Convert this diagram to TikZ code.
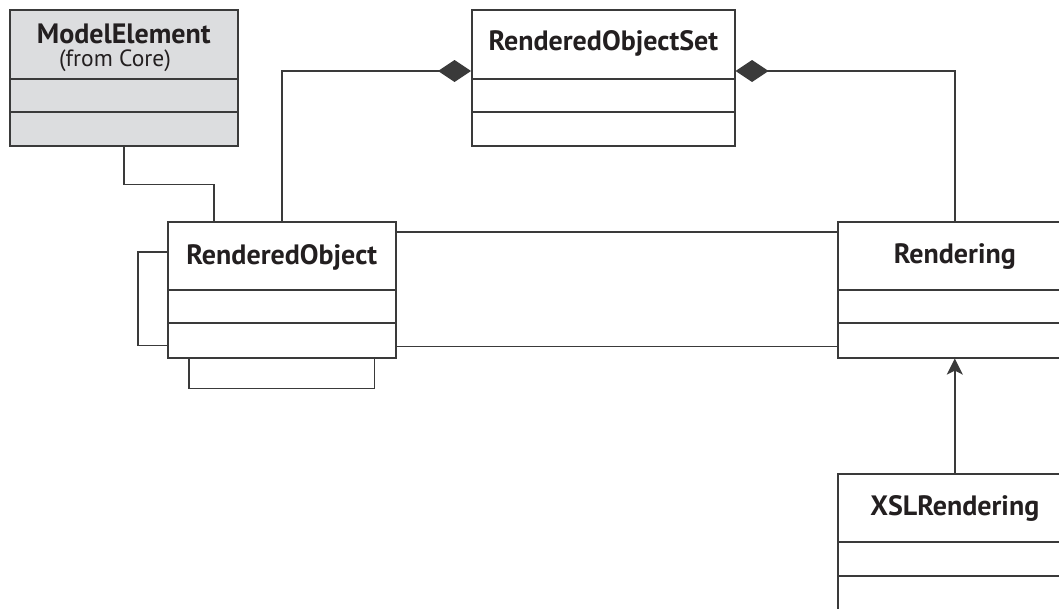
\documentclass[tikz,border=0pt]{standalone}
\usepackage{fontspec}
\setmainfont{PT Sans}
\usetikzlibrary{arrows.meta}
\definecolor{linegray}{HTML}{3A3A3A}
\definecolor{textblack}{HTML}{231F20}
\definecolor{corefill}{HTML}{DCDDDF}

\begin{document}
\begin{tikzpicture}[x=1pt,y=-1pt,
        classbox/.style={draw=linegray,line width=1.6pt,fill=white,inner sep=0pt,anchor=north west,minimum height=136pt},
        classname/.style={text=textblack,font=\fontsize{28}{33}\selectfont\bfseries,inner sep=0pt},
        link/.style={draw=linegray,line width=1.6pt},
        comp/.style={link,{Diamond[length=33pt,width=22pt]}-},
        gen/.style={link,-{Stealth[length=16pt,width=16pt,inset=4pt]}}]

    \clip (0,0) rectangle (1059,608);

    % classes
    \node[classbox,fill=corefill,minimum width=228pt] (me)  at (9,9)     {};
    \node[classbox,minimum width=263pt]               (ros) at (471,9)   {};
    \node[classbox,minimum width=228pt]               (ro)  at (167,221) {};
    \node[classbox,minimum width=234pt]               (rd)  at (837,221) {};
    \node[classbox,minimum width=234pt]               (xsl) at (837,473) {};

    \foreach \c/\a/\b in {me/70/103,ros/70/103,ro/69/102,rd/69/102,xsl/69/103}
        \draw[link] ([yshift=-\a pt]\c.north west) -- ([yshift=-\a pt]\c.north east)
                    ([yshift=-\b pt]\c.north west) -- ([yshift=-\b pt]\c.north east);

    \node[classname] (me-name)  at ([yshift=-25pt]me.north)  {ModelElement};
    \node[text=textblack,font=\fontsize{23.5}{28}\selectfont,inner sep=0pt] (me-from) at (115,61) {(from Core)};
    \node[classname] (ros-name) at ([yshift=-34pt]ros.north) {RenderedObjectSet};
    \node[classname] (ro-name)  at ([yshift=-36pt]ro.north)  {RenderedObject};
    \node[classname] (rd-name)  at ([yshift=-36pt]rd.north)  {Rendering};
    \node[classname] (xsl-name) at ([yshift=-35pt]xsl.north) {XSLRendering};

    % connectors
    \draw[link] (me.south) -- ++(0,38) -| ([xshift=47pt]ro.north west);
    \draw[comp] ([yshift=-62pt]ros.north west) -| (ro.north);
    \draw[comp] ([yshift=-62pt]ros.north east) -| (rd.north);
    \draw[link] ([yshift=-11pt]ro.north east) -- ([yshift=-11pt]rd.north west);
    \draw[link] ([yshift=12pt]ro.south east) -- ([yshift=12pt]rd.south west);
    \draw[link] ([yshift=-31pt]ro.north west) -- ++(-29,0) |- ([yshift=13pt]ro.south west);
    \draw[link] ([xshift=22pt]ro.south west) -- ++(0,30) -| ([xshift=-22pt]ro.south east);
    \draw[gen] (xsl.north) -- (rd.south);
\end{tikzpicture}
\end{document}
